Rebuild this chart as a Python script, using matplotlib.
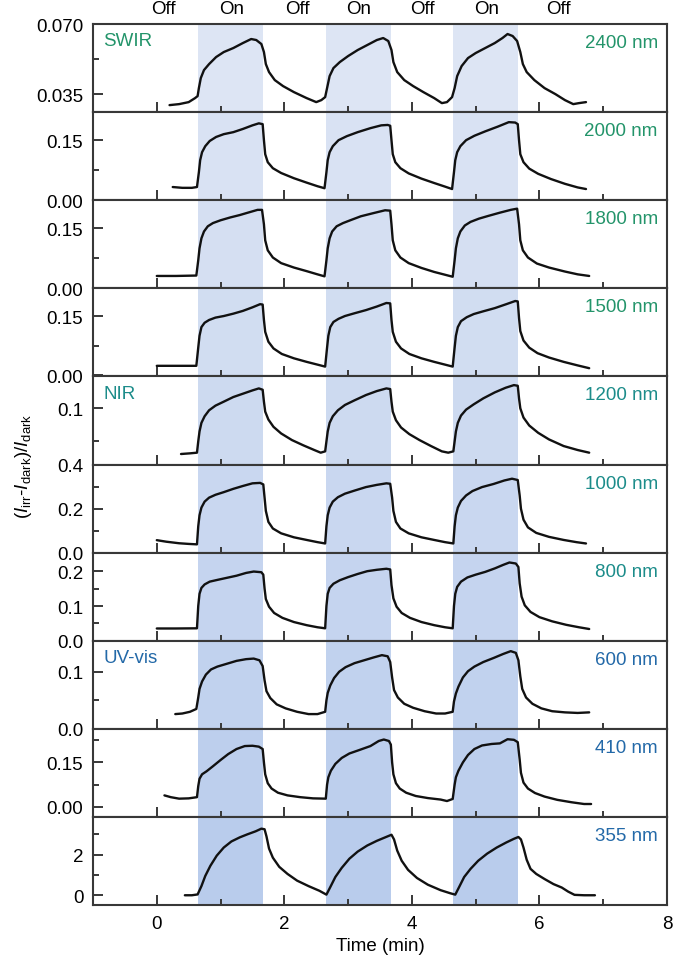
#!/usr/bin/env python3
import matplotlib
matplotlib.use("Agg")
import matplotlib.pyplot as plt

plt.rcParams["font.family"] = ["Liberation Sans", "DejaVu Sans"]
plt.rcParams["font.size"] = 13.5
plt.rcParams["mathtext.fontset"] = "custom"
plt.rcParams["mathtext.rm"] = "Liberation Sans"
plt.rcParams["mathtext.it"] = "Liberation Sans:italic"

# --- Data -------------------------------------------------------------------
WAVELENGTHS = ["2400 nm", "2000 nm", "1800 nm", "1500 nm", "1200 nm",
               "1000 nm", "800 nm", "600 nm", "410 nm", "355 nm"]
BAND_NAMES = ["SWIR", None, None, None, "NIR", None, None, "UV-vis", None, None]
BAND_COLORS = ["#23946a"] * 4 + ["#1c8c8a"] * 3 + ["#2369a8"] * 3

ON_START = [0.65, 2.65, 4.65]
ON_END = [1.67, 3.67, 5.67]
STATE_X = [0.1, 1.17, 2.2, 3.17, 4.17, 5.17, 6.3]
STATE_LABELS = ["Off", "On", "Off", "On", "Off", "On", "Off"]

# (time [min], (I_irr - I_dark)/I_dark)
P_2400 = [(0.20, 0.0295), (0.35, 0.030), (0.50, 0.031), (0.60, 0.033), (0.64, 0.034),
          (0.66, 0.038), (0.69, 0.043), (0.74, 0.047), (0.82, 0.050), (0.93, 0.0535),
          (1.05, 0.056), (1.20, 0.058), (1.35, 0.0605), (1.48, 0.0625), (1.56, 0.062),
          (1.64, 0.060), (1.68, 0.056), (1.71, 0.050), (1.76, 0.046), (1.85, 0.042),
          (1.98, 0.039), (2.15, 0.036), (2.35, 0.033), (2.50, 0.031), (2.58, 0.032),
          (2.64, 0.0335),
          (2.67, 0.038), (2.71, 0.044), (2.77, 0.048), (2.87, 0.051), (3.00, 0.054),
          (3.15, 0.057), (3.30, 0.0595), (3.45, 0.062), (3.55, 0.063), (3.63, 0.0615),
          (3.68, 0.057), (3.71, 0.051), (3.77, 0.046), (3.88, 0.042), (4.02, 0.039),
          (4.18, 0.036), (4.35, 0.033), (4.47, 0.0305), (4.55, 0.031), (4.63, 0.0335),
          (4.67, 0.038), (4.71, 0.044), (4.78, 0.049), (4.88, 0.053), (5.00, 0.0555),
          (5.15, 0.058), (5.30, 0.0605), (5.42, 0.063), (5.50, 0.065), (5.58, 0.064),
          (5.65, 0.0615), (5.70, 0.056), (5.74, 0.050), (5.80, 0.046), (5.92, 0.042),
          (6.08, 0.038), (6.25, 0.035), (6.40, 0.032), (6.53, 0.030), (6.62, 0.0305),
          (6.73, 0.031)]
P_2000 = [(0.25, 0.033), (0.40, 0.031), (0.55, 0.031), (0.63, 0.033), (0.66, 0.070),
          (0.68, 0.100), (0.71, 0.120), (0.76, 0.135), (0.83, 0.148), (0.93, 0.158),
          (1.05, 0.165), (1.20, 0.170), (1.35, 0.178), (1.50, 0.187), (1.60, 0.192),
          (1.66, 0.190), (1.68, 0.150), (1.70, 0.115), (1.74, 0.095), (1.82, 0.080),
          (1.95, 0.068), (2.15, 0.055), (2.35, 0.044), (2.52, 0.035), (2.63, 0.030),
          (2.66, 0.070), (2.68, 0.100), (2.71, 0.120), (2.76, 0.135), (2.85, 0.150),
          (2.98, 0.160), (3.15, 0.170), (3.35, 0.180), (3.52, 0.187), (3.62, 0.188),
          (3.66, 0.186), (3.68, 0.150), (3.70, 0.115), (3.74, 0.095), (3.82, 0.080),
          (3.95, 0.067), (4.15, 0.054), (4.35, 0.043), (4.52, 0.034), (4.63, 0.028),
          (4.66, 0.070), (4.68, 0.100), (4.71, 0.120), (4.76, 0.135), (4.85, 0.150),
          (4.98, 0.161), (5.15, 0.172), (5.35, 0.184), (5.52, 0.195), (5.62, 0.194),
          (5.66, 0.190), (5.68, 0.150), (5.70, 0.115), (5.75, 0.095), (5.84, 0.079),
          (5.98, 0.066), (6.18, 0.053), (6.40, 0.041), (6.60, 0.032), (6.73, 0.028)]
P_1800 = [(0.00, 0.031), (0.30, 0.031), (0.62, 0.032), (0.65, 0.070), (0.67, 0.100),
          (0.70, 0.125), (0.74, 0.142), (0.80, 0.155), (0.88, 0.163), (1.00, 0.170),
          (1.15, 0.177), (1.30, 0.183), (1.45, 0.190), (1.58, 0.196), (1.65, 0.196),
          (1.68, 0.160), (1.70, 0.120), (1.74, 0.095), (1.82, 0.077), (1.95, 0.063),
          (2.15, 0.052), (2.35, 0.043), (2.52, 0.035), (2.63, 0.030),
          (2.66, 0.070), (2.68, 0.100), (2.71, 0.125), (2.75, 0.142), (2.82, 0.155),
          (2.92, 0.163), (3.05, 0.171), (3.20, 0.180), (3.40, 0.188), (3.58, 0.195),
          (3.66, 0.194), (3.68, 0.160), (3.70, 0.120), (3.74, 0.095), (3.82, 0.077),
          (3.95, 0.063), (4.15, 0.051), (4.35, 0.041), (4.52, 0.034), (4.64, 0.029),
          (4.67, 0.070), (4.69, 0.100), (4.72, 0.125), (4.76, 0.142), (4.83, 0.157),
          (4.92, 0.166), (5.05, 0.174), (5.20, 0.181), (5.38, 0.189), (5.55, 0.196),
          (5.65, 0.199), (5.68, 0.160), (5.70, 0.120), (5.74, 0.095), (5.82, 0.077),
          (5.96, 0.062), (6.15, 0.052), (6.40, 0.042), (6.60, 0.035), (6.78, 0.031)]
P_1500 = [(0.00, 0.024), (0.30, 0.024), (0.62, 0.024), (0.65, 0.070), (0.67, 0.100),
          (0.70, 0.122), (0.75, 0.133), (0.82, 0.140), (0.92, 0.146), (1.05, 0.150),
          (1.20, 0.156), (1.35, 0.163), (1.50, 0.172), (1.62, 0.180), (1.66, 0.179),
          (1.68, 0.140), (1.70, 0.110), (1.75, 0.085), (1.83, 0.068), (1.96, 0.054),
          (2.15, 0.043), (2.35, 0.034), (2.52, 0.027), (2.64, 0.022),
          (2.67, 0.070), (2.69, 0.100), (2.72, 0.122), (2.77, 0.135), (2.85, 0.143),
          (2.95, 0.150), (3.10, 0.157), (3.28, 0.165), (3.45, 0.174), (3.60, 0.183),
          (3.66, 0.182), (3.68, 0.140), (3.70, 0.110), (3.75, 0.085), (3.83, 0.068),
          (3.96, 0.054), (4.15, 0.043), (4.35, 0.034), (4.52, 0.027), (4.64, 0.022),
          (4.67, 0.070), (4.69, 0.100), (4.72, 0.122), (4.77, 0.137), (4.86, 0.147),
          (4.97, 0.155), (5.12, 0.162), (5.30, 0.170), (5.48, 0.180), (5.62, 0.188),
          (5.66, 0.187), (5.68, 0.145), (5.70, 0.112), (5.75, 0.088), (5.84, 0.070),
          (5.97, 0.056), (6.15, 0.045), (6.38, 0.034), (6.60, 0.025), (6.78, 0.018)]
P_1200 = [(0.38, 0.031), (0.52, 0.032), (0.63, 0.033), (0.65, 0.050), (0.67, 0.065),
          (0.70, 0.078), (0.75, 0.088), (0.82, 0.097), (0.92, 0.104), (1.05, 0.110),
          (1.20, 0.117), (1.35, 0.122), (1.50, 0.127), (1.60, 0.130), (1.66, 0.128),
          (1.68, 0.110), (1.70, 0.095), (1.75, 0.083), (1.83, 0.072), (1.95, 0.062),
          (2.12, 0.052), (2.30, 0.044), (2.47, 0.037), (2.57, 0.033), (2.64, 0.035),
          (2.66, 0.050), (2.68, 0.065), (2.71, 0.078), (2.76, 0.088), (2.84, 0.097),
          (2.95, 0.105), (3.10, 0.112), (3.28, 0.120), (3.45, 0.126), (3.60, 0.130),
          (3.66, 0.129), (3.68, 0.110), (3.70, 0.095), (3.75, 0.082), (3.83, 0.071),
          (3.96, 0.061), (4.12, 0.052), (4.30, 0.043), (4.47, 0.035), (4.57, 0.033),
          (4.65, 0.035),
          (4.67, 0.050), (4.69, 0.065), (4.72, 0.078), (4.77, 0.089), (4.85, 0.098),
          (4.97, 0.106), (5.12, 0.115), (5.30, 0.124), (5.47, 0.131), (5.60, 0.135),
          (5.66, 0.134), (5.68, 0.115), (5.70, 0.100), (5.75, 0.086), (5.84, 0.074),
          (5.98, 0.063), (6.15, 0.053), (6.38, 0.043), (6.60, 0.037), (6.78, 0.033)]
P_1000 = [(0.00, 0.057), (0.15, 0.050), (0.35, 0.043), (0.50, 0.040), (0.63, 0.038),
          (0.65, 0.120), (0.67, 0.170), (0.70, 0.205), (0.75, 0.232), (0.82, 0.250),
          (0.92, 0.263), (1.05, 0.275), (1.20, 0.290), (1.35, 0.303), (1.50, 0.315),
          (1.62, 0.317), (1.67, 0.310), (1.69, 0.250), (1.71, 0.190), (1.75, 0.140),
          (1.82, 0.110), (1.95, 0.088), (2.15, 0.070), (2.35, 0.058), (2.52, 0.048),
          (2.64, 0.042),
          (2.66, 0.120), (2.68, 0.170), (2.71, 0.205), (2.76, 0.232), (2.84, 0.252),
          (2.95, 0.268), (3.10, 0.282), (3.28, 0.298), (3.45, 0.308), (3.60, 0.315),
          (3.66, 0.313), (3.69, 0.250), (3.71, 0.190), (3.75, 0.140), (3.82, 0.110),
          (3.95, 0.088), (4.15, 0.070), (4.35, 0.058), (4.52, 0.048), (4.65, 0.042),
          (4.67, 0.120), (4.69, 0.170), (4.72, 0.205), (4.77, 0.235), (4.85, 0.260),
          (4.95, 0.280), (5.10, 0.298), (5.28, 0.312), (5.45, 0.328), (5.57, 0.336),
          (5.66, 0.330), (5.69, 0.260), (5.71, 0.200), (5.75, 0.150), (5.82, 0.115),
          (5.95, 0.090), (6.15, 0.072), (6.38, 0.058), (6.58, 0.048), (6.73, 0.042)]
P_800 = [(0.00, 0.0355), (0.30, 0.0355), (0.63, 0.036), (0.65, 0.100), (0.67, 0.135),
         (0.70, 0.152), (0.75, 0.162), (0.83, 0.170), (0.95, 0.175), (1.10, 0.181),
         (1.25, 0.187), (1.40, 0.195), (1.52, 0.199), (1.64, 0.197), (1.67, 0.190),
         (1.69, 0.150), (1.71, 0.120), (1.76, 0.098), (1.84, 0.080), (1.97, 0.066),
         (2.15, 0.054), (2.35, 0.045), (2.52, 0.039), (2.64, 0.036),
         (2.66, 0.100), (2.68, 0.135), (2.71, 0.152), (2.77, 0.164), (2.87, 0.174),
         (3.00, 0.183), (3.15, 0.192), (3.30, 0.200), (3.45, 0.204), (3.60, 0.207),
         (3.66, 0.205), (3.68, 0.160), (3.71, 0.122), (3.76, 0.098), (3.84, 0.080),
         (3.97, 0.066), (4.15, 0.054), (4.35, 0.045), (4.52, 0.039), (4.64, 0.036),
         (4.66, 0.100), (4.68, 0.135), (4.71, 0.155), (4.77, 0.170), (4.87, 0.182),
         (5.00, 0.190), (5.15, 0.198), (5.30, 0.208), (5.43, 0.218), (5.53, 0.225),
         (5.63, 0.222), (5.67, 0.212), (5.69, 0.165), (5.72, 0.127), (5.77, 0.102),
         (5.86, 0.083), (6.00, 0.068), (6.20, 0.056), (6.42, 0.046), (6.62, 0.039),
         (6.78, 0.034)]
P_600 = [(0.29, 0.026), (0.40, 0.027), (0.52, 0.030), (0.62, 0.035), (0.65, 0.055),
         (0.67, 0.070), (0.71, 0.083), (0.77, 0.095), (0.85, 0.104), (0.95, 0.109),
         (1.10, 0.114), (1.25, 0.119), (1.40, 0.122), (1.52, 0.123), (1.61, 0.120),
         (1.66, 0.110), (1.69, 0.085), (1.72, 0.066), (1.78, 0.054), (1.88, 0.043),
         (2.02, 0.036), (2.20, 0.030), (2.38, 0.026), (2.52, 0.026), (2.64, 0.030),
         (2.66, 0.050), (2.68, 0.063), (2.72, 0.076), (2.78, 0.089), (2.86, 0.100),
         (2.96, 0.108), (3.10, 0.115), (3.25, 0.120), (3.40, 0.125), (3.53, 0.129),
         (3.62, 0.127), (3.66, 0.117), (3.69, 0.090), (3.72, 0.068), (3.78, 0.055),
         (3.88, 0.044), (4.02, 0.037), (4.20, 0.031), (4.38, 0.027), (4.52, 0.027),
         (4.64, 0.030),
         (4.66, 0.048), (4.69, 0.062), (4.73, 0.074), (4.80, 0.090), (4.88, 0.101),
         (4.98, 0.109), (5.12, 0.117), (5.28, 0.124), (5.43, 0.131), (5.55, 0.136),
         (5.63, 0.133), (5.67, 0.120), (5.70, 0.092), (5.73, 0.070), (5.79, 0.055),
         (5.89, 0.044), (6.03, 0.036), (6.20, 0.031), (6.40, 0.029), (6.60, 0.028),
         (6.78, 0.029)]
P_410 = [(0.12, 0.039), (0.22, 0.033), (0.35, 0.028), (0.50, 0.029), (0.63, 0.033),
         (0.65, 0.070), (0.67, 0.095), (0.71, 0.110), (0.78, 0.120), (0.88, 0.137),
         (1.00, 0.158), (1.12, 0.178), (1.25, 0.195), (1.38, 0.205), (1.50, 0.206),
         (1.60, 0.203), (1.66, 0.195), (1.68, 0.150), (1.70, 0.110), (1.74, 0.080),
         (1.80, 0.062), (1.90, 0.048), (2.05, 0.039), (2.25, 0.033), (2.45, 0.029),
         (2.65, 0.028),
         (2.67, 0.075), (2.69, 0.100), (2.73, 0.122), (2.80, 0.145), (2.90, 0.165),
         (3.02, 0.180), (3.18, 0.192), (3.35, 0.205), (3.48, 0.222), (3.56, 0.227),
         (3.64, 0.222), (3.67, 0.210), (3.69, 0.150), (3.71, 0.110), (3.75, 0.080),
         (3.81, 0.062), (3.91, 0.048), (4.06, 0.037), (4.25, 0.030), (4.45, 0.025),
         (4.55, 0.020), (4.64, 0.027),
         (4.67, 0.075), (4.69, 0.100), (4.73, 0.122), (4.80, 0.150), (4.88, 0.175),
         (4.98, 0.195), (5.10, 0.207), (5.25, 0.212), (5.38, 0.214), (5.50, 0.228),
         (5.60, 0.226), (5.66, 0.218), (5.69, 0.160), (5.71, 0.115), (5.75, 0.082),
         (5.82, 0.062), (5.93, 0.047), (6.08, 0.035), (6.28, 0.024), (6.50, 0.016),
         (6.70, 0.010), (6.81, 0.010)]
P_355 = [(0.44, 0.00), (0.55, 0.00), (0.64, 0.04), (0.70, 0.45), (0.76, 0.95),
         (0.84, 1.45), (0.94, 1.95), (1.05, 2.35), (1.17, 2.65), (1.30, 2.85),
         (1.42, 3.00), (1.55, 3.15), (1.64, 3.28), (1.69, 3.25), (1.72, 2.90),
         (1.76, 2.30), (1.82, 1.85), (1.92, 1.40), (2.05, 1.05), (2.20, 0.72),
         (2.38, 0.45), (2.55, 0.22), (2.66, 0.03),
         (2.72, 0.40), (2.80, 0.90), (2.90, 1.35), (3.02, 1.80), (3.15, 2.15),
         (3.30, 2.45), (3.45, 2.68), (3.58, 2.85), (3.68, 2.98), (3.72, 2.75),
         (3.77, 2.20), (3.84, 1.70), (3.94, 1.25), (4.08, 0.85), (4.25, 0.52),
         (4.45, 0.25), (4.60, 0.10), (4.68, 0.03),
         (4.74, 0.40), (4.82, 0.90), (4.92, 1.30), (5.04, 1.70), (5.18, 2.05),
         (5.33, 2.35), (5.48, 2.60), (5.60, 2.78), (5.67, 2.87), (5.71, 2.75),
         (5.75, 2.35), (5.80, 1.75), (5.86, 1.30), (5.95, 1.05), (6.08, 0.80),
         (6.22, 0.55), (6.35, 0.38), (6.45, 0.18), (6.55, 0.02), (6.70, 0.00),
         (6.87, 0.00)]

TRACES = [P_2400, P_2000, P_1800, P_1500, P_1200, P_1000, P_800, P_600, P_410, P_355]

# axis setup per panel
YLIMS = [(0.026, 0.070), (0, 0.22), (0, 0.22), (-0.003, 0.22), (0.015, 0.148),
         (0, 0.40), (0, 0.253), (0, 0.154), (-0.034, 0.2625), (-0.49, 3.85)]
YTICKS = [[0.035, 0.070], [0, 0.15], [0, 0.15], [0, 0.15], [0.1],
          [0, 0.2, 0.4], [0, 0.1, 0.2], [0, 0.1], [0, 0.15], [0, 2]]
YTICKLABELS = [["0.035", "0.070"], ["0.00", "0.15"], ["0.00", "0.15"], ["0.00", "0.15"],
               ["0.1"], ["0.0", "0.2", "0.4"], ["0.0", "0.1", "0.2"], ["0.0", "0.1"],
               ["0.00", "0.15"], ["0", "2"]]
YMINOR = [[0.0525], [0.075], [0.075], [0.075], [0.05], [0.1, 0.3], [0.05, 0.15],
          [0.05], [0.075, 0.225], [1, 3]]

SPAN_TOP = (0.865, 0.898, 0.957)
SPAN_BOTTOM = (0.725, 0.800, 0.925)
SPINE = "#383838"


def span_color(i, n):
    f = i / (n - 1)
    return tuple(a + (b - a) * f for a, b in zip(SPAN_TOP, SPAN_BOTTOM))


def main():
    n = len(TRACES)
    fig, axes = plt.subplots(n, 1, sharex=True, figsize=(6.74, 9.62), dpi=100)
    fig.subplots_adjust(left=0.138, right=0.9896, top=0.974, bottom=0.058, hspace=0)

    for i, ax in enumerate(axes):
        col = span_color(i, n)
        for s, e in zip(ON_START, ON_END):
            ax.axvspan(s, e, color=col, lw=0, zorder=0)

        xs, ys = zip(*TRACES[i])
        ax.plot(xs, ys, color="#111111", lw=1.7, solid_joinstyle="round",
                solid_capstyle="round", zorder=3)

        ax.set_xlim(-1, 8)
        ax.set_ylim(*YLIMS[i])
        ax.set_yticks(YTICKS[i], labels=YTICKLABELS[i])
        ax.set_yticks(YMINOR[i], minor=True)
        ax.set_xticks([0, 2, 4, 6, 8])
        ax.set_xticks([1, 3, 5, 7], minor=True)
        ax.tick_params(which="both", direction="in", color=SPINE, width=1.4,
                       top=False, right=False, labelsize=13.5, pad=7)
        ax.tick_params(which="major", length=7)
        ax.tick_params(which="minor", length=4)
        if i < n - 1:
            ax.tick_params(axis="x", labelbottom=False)
        for sp in ax.spines.values():
            sp.set_color(SPINE)
            sp.set_linewidth(1.5)

        ax.text(0.984, 0.79, WAVELENGTHS[i], transform=ax.transAxes, ha="right",
                va="center", color=BAND_COLORS[i], fontsize=13.5)
        if BAND_NAMES[i]:
            ax.text(0.018, 0.81, BAND_NAMES[i], transform=ax.transAxes, ha="left",
                    va="center", color=BAND_COLORS[i], fontsize=13.5)

    top = axes[0]
    for x, lab in zip(STATE_X, STATE_LABELS):
        top.text(x, 1.13, lab, transform=top.get_xaxis_transform(), ha="center",
                 va="baseline", fontsize=13.5)

    axes[-1].set_xlabel("Time (min)", fontsize=13.5, labelpad=4)
    fig.text(0.035, 0.515, r"($I_{\rm irr}$-$I_{\rm dark}$)/$I_{\rm dark}$",
             rotation=90, ha="center", va="center", fontsize=13.5)

    fig.savefig("out.png", dpi=100)


if __name__ == "__main__":
    main()
